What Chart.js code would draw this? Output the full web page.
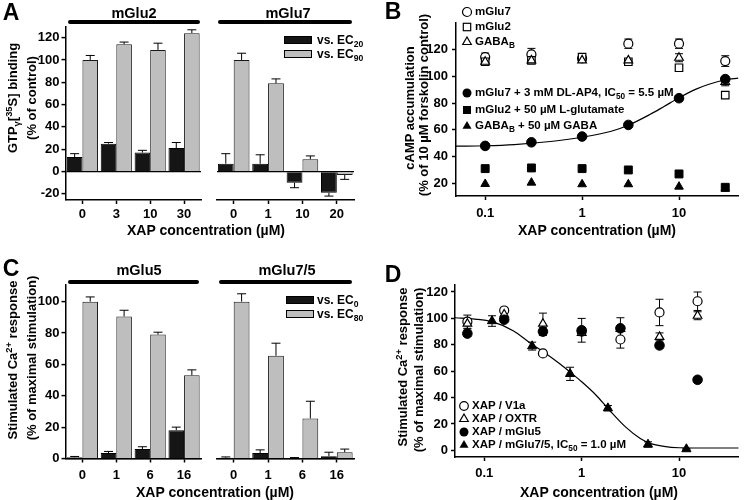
<!DOCTYPE html>
<html>
<head>
<meta charset="utf-8">
<script src="https://cdn.jsdelivr.net/npm/chart.js@4"></script>
<style>
  body { margin: 0; background: #fff; }
  #fig { position: relative; width: 745px; height: 500px; overflow: hidden;
         font-family: "Liberation Sans", Arial, sans-serif; font-weight: bold; color: #000; }
  canvas { position: absolute; }
  .lbl { position: absolute; white-space: nowrap; line-height: 1; transform: translate(-50%, -50%); z-index: 2; }
  .vt { position: absolute; white-space: nowrap; line-height: 1; font-size: 13px; z-index: 2;
        transform: translate(-50%, -50%) rotate(-90deg); }
  .xt { font-size: 14px; }
  .hd { font-size: 14.5px; }
  .let { font-size: 23px; }
  .leg { position: absolute; white-space: nowrap; line-height: 1; font-size: 11.5px; z-index: 2;
         transform: translateY(-50%); }
  .hbar { position: absolute; height: 4px; background: #000; border-radius: 2px; z-index: 2; }
  .sw { position: absolute; width: 26px; height: 6px; border: 1px solid #000; z-index: 2; }
  .mk { position: absolute; width: 12px; height: 12px; z-index: 2; }
  sub, sup { font-size: 0.72em; line-height: 0; position: relative; vertical-align: baseline; }
  sub { top: 0.35em; }
  sup { top: -0.5em; }
</style>
</head>
<body>
<div id="fig">
  <!-- panel letters -->
  <div class="lbl let" style="left:11px;top:12px">A</div>
  <div class="lbl let" style="left:393px;top:11px">B</div>
  <div class="lbl let" style="left:11px;top:268px">C</div>
  <div class="lbl let" style="left:393px;top:274px">D</div>

  <!-- group headers -->
  <div class="lbl hd" style="left:134px;top:13px">mGlu2</div>
  <div class="lbl hd" style="left:288px;top:13px">mGlu7</div>
  <div class="hbar" style="left:68px;top:20px;width:132px"></div>
  <div class="hbar" style="left:218px;top:20px;width:134px"></div>
  <div class="lbl hd" style="left:139px;top:270px">mGlu5</div>
  <div class="lbl hd" style="left:287px;top:270px">mGlu7/5</div>
  <div class="hbar" style="left:68px;top:280px;width:131px"></div>
  <div class="hbar" style="left:219px;top:280px;width:133px"></div>

  <!-- axis titles -->
  <div class="vt" style="left:12px;top:98px">GTP<sub>γ</sub>[<sup>35</sup>S] binding</div>
  <div class="vt" style="left:31px;top:98px">(% of control)</div>
  <div class="lbl xt" style="left:206px;top:230px">XAP concentration (µM)</div>

  <div class="vt" style="left:409px;top:108px">cAMP accumulation</div>
  <div class="vt" style="left:423px;top:105px">(% of 10 µM forskolin control)</div>
  <div class="lbl xt" style="left:597px;top:230px">XAP concentration (µM)</div>

  <div class="vt" style="left:12px;top:360px">Stimulated Ca<sup>2+</sup> response</div>
  <div class="vt" style="left:31px;top:358px">(% of maximal stimulation)</div>
  <div class="lbl xt" style="left:215px;top:492px">XAP concentration (µM)</div>

  <div class="vt" style="left:402px;top:367px">Stimulated Ca<sup>2+</sup> response</div>
  <div class="vt" style="left:418px;top:370px">(% of maximal stimulation)</div>
  <div class="lbl xt" style="left:599px;top:492px">XAP concentration (µM)</div>

  <!-- legend A -->
  <div class="sw" style="left:284px;top:36px;background:#151515"></div>
  <div class="leg" style="left:317px;top:40px;font-size:12px">vs. EC<sub>20</sub></div>
  <div class="sw" style="left:284px;top:50px;background:#bebebe"></div>
  <div class="leg" style="left:317px;top:54px;font-size:12px">vs. EC<sub>90</sub></div>

  <!-- legend C -->
  <div class="sw" style="left:286px;top:296px;background:#151515"></div>
  <div class="leg" style="left:317px;top:300px;font-size:12px">vs. EC<sub>0</sub></div>
  <div class="sw" style="left:286px;top:310px;background:#bebebe"></div>
  <div class="leg" style="left:317px;top:314px;font-size:12px">vs. EC<sub>80</sub></div>

  <!-- legend B -->
  <svg class="mk" style="left:461px;top:6px"><circle cx="6" cy="6" r="4.5" fill="#fff" stroke="#000" stroke-width="1.2"/></svg>
  <div class="leg" style="left:475px;top:12px">mGlu7</div>
  <svg class="mk" style="left:461px;top:21px"><rect x="2.3" y="2.3" width="7.4" height="7.4" fill="#fff" stroke="#000" stroke-width="1.2"/></svg>
  <div class="leg" style="left:475px;top:27px">mGlu2</div>
  <svg class="mk" style="left:461px;top:36px"><polygon points="6,1 10.3,8.5 1.7,8.5" fill="#fff" stroke="#000" stroke-width="1.2"/></svg>
  <div class="leg" style="left:475px;top:42px">GABA<sub>B</sub></div>

  <svg class="mk" style="left:461px;top:87px"><circle cx="6" cy="6" r="4.5" fill="#000"/></svg>
  <div class="leg" style="left:475px;top:93px">mGlu7 + 3 mM DL-AP4, IC<sub>50</sub> = 5.5 µM</div>
  <svg class="mk" style="left:461px;top:104px"><rect x="2" y="2" width="8" height="8" fill="#000"/></svg>
  <div class="leg" style="left:475px;top:110px">mGlu2 + 50 µM L-glutamate</div>
  <svg class="mk" style="left:461px;top:120px"><polygon points="6,1 10.5,8.8 1.5,8.8" fill="#000"/></svg>
  <div class="leg" style="left:475px;top:126px">GABA<sub>B</sub> + 50 µM GABA</div>

  <!-- legend D -->
  <svg class="mk" style="left:458px;top:400px"><circle cx="6" cy="6" r="4.3" fill="#fff" stroke="#000" stroke-width="1.2"/></svg>
  <div class="leg" style="left:472px;top:406px">XAP / V1a</div>
  <svg class="mk" style="left:458px;top:413px"><polygon points="6,1 10.3,8.5 1.7,8.5" fill="#fff" stroke="#000" stroke-width="1.2"/></svg>
  <div class="leg" style="left:472px;top:419px">XAP / OXTR</div>
  <svg class="mk" style="left:458px;top:426px"><circle cx="6" cy="6" r="4.5" fill="#000"/></svg>
  <div class="leg" style="left:472px;top:432px">XAP / mGlu5</div>
  <svg class="mk" style="left:458px;top:439px"><polygon points="6,1 10.5,8.8 1.5,8.8" fill="#000"/></svg>
  <div class="leg" style="left:472px;top:445px">XAP / mGlu7/5, IC<sub>50</sub> = 1.0 µM</div>
</div>

<script>
// ---- panel A: GTPgS binding ----
const aCatsGlu2 = ["0", "3", "10", "30"];
const aCatsGlu7 = ["0", "1", "10", "20"];
const aEc20Glu2 = [13, 25, 17, 21];
const aEc20Glu2Err = [3, 1, 2, 5];
const aEc90Glu2 = [100, 114, 109, 124];
const aEc90Glu2Err = [4, 2, 6, 3];
const aEc20Glu7 = [7, 7, -10, -19];
const aEc20Glu7Err = [9, 8, 4.5, 3];
const aEc90Glu7 = [100, 79, 11, -3];
const aEc90Glu7Err = [6, 4, 3, 4];
const aTicks = [-20, 0, 20, 40, 60, 80, 100, 120];

// ---- panel B: cAMP accumulation ----
const bConc = [0.1, 0.3, 1, 3, 10, 30];
const bGlu7Open = [114.5, 116.5, 113.5, 124.5, 124.5, 111.5];
const bGlu7OpenErr = [3, 4.5, 2, 3.5, 3.5, 4];
const bGlu2Open = [111, 112, 114.5, 111, 106.5, 86];
const bGababOpen = [111, 112, 112, 112, 114, 96];
const bGababOpenErr = [0, 0, 0, 0, 3, 3];
const bGlu7Ap4 = [48, 50.7, 55, 63.7, 83.7, 98];
const bGlu7Ap4Err = [1, 1, 1, 1.5, 2, 2];
const bGlu2Glut = [31, 31.5, 31, 30, 27, 17];
const bGababGaba = [19.5, 20.5, 19.3, 19.3, 17.5, 16];
const bFitConc = [0.05, 0.1, 0.2, 0.5, 1, 2, 3, 5, 7, 10, 15, 20, 30, 41];
const bFitVal = [47.8, 48.1, 49, 51.5, 54.5, 59, 63.5, 71.5, 77.5, 84, 90.5, 94, 97.5, 98.7];
const bTicks = [20, 40, 60, 80, 100, 120];
const logTicks = [0.1, 1, 10];

// ---- panel C: Ca2+ response ----
const cCats = ["0", "1", "6", "16"];
const cEc0Glu5 = [0.8, 3.5, 6, 18];
const cEc0Glu5Err = [0.5, 1, 1.5, 2];
const cEc80Glu5 = [100, 90.5, 79, 53];
const cEc80Glu5Err = [3, 4, 1.5, 3.5];
const cEc0Glu75 = [0.5, 3.5, 0.3, 1.5];
const cEc0Glu75Err = [0.5, 2, 0.3, 2.5];
const cEc80Glu75 = [100, 65.5, 25.5, 4];
const cEc80Glu75Err = [5, 8, 11, 2];
const cTicks = [0, 20, 40, 60, 80, 100];

// ---- panel D: selectivity ----
const dConc = [0.067, 0.16, 0.4, 1.0, 2.5, 6.3, 15.5];
const dV1a = [97.5, 106, 73.5, 90, 84, 104.5, 113];
const dV1aErr = [5, 2, 1.5, 2, 6.5, 10, 7];
const dOxtr = [96, 103, 96, 89, 92, 86, 102];
const dOxtrErr = [4, 2, 8, 2, 2, 3, 3];
const dGlu5 = [88.5, 99, 90, 91, 92.5, 79.5, 53.5];
const dGlu5Err = [2, 2, 3, 9, 8, 2, 2];
const dConc75 = [0.12, 0.31, 0.76, 1.86, 4.8, 11.9];
const dGlu75 = [98, 79, 58, 32, 4.5, 1];
const dGlu75Err = [4, 3, 5, 2, 2, 0.5];
const dFitConc = [0.05, 0.08, 0.12, 0.2, 0.3, 0.4, 0.6, 0.8, 1, 1.4, 1.9, 2.8, 4, 5, 7, 10, 20, 41];
const dFitVal = [100.5, 99.5, 97.5, 90.5, 81, 75, 65.5, 58, 52, 42, 31, 18, 9, 5.5, 3, 2, 1.8, 1.8];
const dTicks = [0, 20, 40, 60, 80, 100, 120];

Chart.defaults.font.family = '"Liberation Sans", Arial, sans-serif';
Chart.defaults.color = "#000";
const tickFont = { size: 13, weight: "bold" };

// error bars: bars get one-sided whiskers, points get both sides
const errorBars = {
  id: "errorBars",
  beforeDatasetsDraw(chart) {
    const ctx = chart.ctx;
    const ys = chart.scales.y;
    chart.data.datasets.forEach((ds, di) => {
      if (!ds.errors) return;
      const meta = chart.getDatasetMeta(di);
      ctx.save();
      ctx.strokeStyle = "#000";
      ctx.lineWidth = 1;
      meta.data.forEach((el, i) => {
        const e = ds.errors[i];
        if (!e) return;
        const cap = ds.capHalf || 4.5;
        const x = el.x;
        let ends;
        if (typeof ds.data[i] === "number") {
          const v = ds.data[i];
          ends = [v, v >= 0 ? v + e : v - e];
        } else {
          const v = ds.data[i].y;
          ends = [v - e, v + e];
        }
        const y0 = ys.getPixelForValue(ends[0]);
        const y1 = ys.getPixelForValue(ends[1]);
        ctx.beginPath();
        ctx.moveTo(x, y0);
        ctx.lineTo(x, y1);
        ctx.moveTo(x - cap, y1);
        ctx.lineTo(x + cap, y1);
        if (typeof ds.data[i] !== "number") {
          ctx.moveTo(x - cap, y0);
          ctx.lineTo(x + cap, y0);
        }
        ctx.stroke();
      });
      ctx.restore();
    });
  },
};

function makeCanvas(box) {
  const cv = document.createElement("canvas");
  cv.width = box.w;
  cv.height = box.h;
  cv.style.left = box.l + "px";
  cv.style.top = box.t + "px";
  cv.style.width = box.w + "px";
  cv.style.height = box.h + "px";
  document.getElementById("fig").appendChild(cv);
  return cv;
}

function zeroLine(c) {
  return c.tick && c.tick.value === 0 ? "#000" : "rgba(0,0,0,0)";
}

// grouped bar subplot; showY draws the left axis with labels
function barChart(box, area, cats, blk, blkErr, gry, gryErr, yMin, yMax, yTicks, showY, xPad) {
  const cv = makeCanvas(box);
  return new Chart(cv, {
    type: "bar",
    data: {
      labels: cats,
      datasets: [
        { data: blk, errors: blkErr, backgroundColor: "#151515", borderColor: "#000", borderWidth: 1 },
        { data: gry, errors: gryErr, backgroundColor: "#bebebe", borderColor: "#1a1a1a", borderWidth: 1 },
      ],
    },
    options: {
      responsive: false,
      animation: false,
      events: [],
      layout: { padding: { left: 0, top: area.top - box.t, right: box.l + box.w - area.right, bottom: 0 } },
      datasets: { bar: { categoryPercentage: 0.92, barPercentage: 1 } },
      plugins: { legend: { display: false }, tooltip: { enabled: false } },
      scales: {
        x: {
          grid: { offset: false, drawOnChartArea: false, tickLength: 4, tickColor: "#000", tickWidth: 1.5 },
          border: { color: "#000", width: 1.5 },
          ticks: { font: tickFont, padding: xPad, maxRotation: 0, color: "#000" },
          afterFit: (s) => { s.height = box.t + box.h - area.bottom; },
        },
        y: {
          min: yMin,
          max: yMax,
          afterBuildTicks: (s) => { s.ticks = yTicks.map((v) => ({ value: v })); },
          grid: { color: zeroLine, lineWidth: 1.2, drawTicks: showY, tickLength: 4, tickColor: "#000", tickWidth: 1.5 },
          border: { display: showY, color: "#000", width: 1.5 },
          ticks: { display: showY, font: tickFont, padding: 2, color: "#000" },
          afterFit: (s) => { s.width = area.left - box.l; },
        },
      },
    },
    plugins: [errorBars],
  });
}

function pts(xs, ys) {
  return xs.map((x, i) => ({ x: x, y: ys[i] }));
}

function marker(style, filled, radius, data, errors, order) {
  return {
    data: data,
    errors: errors,
    capHalf: 4,
    pointStyle: style,
    pointRadius: radius,
    backgroundColor: filled ? "#000" : "#fff",
    borderColor: "#000",
    borderWidth: filled ? 1 : 1.2,
    order: order,
    clip: false,
  };
}

function fitLine(data) {
  return {
    data: data,
    showLine: true,
    borderColor: "#000",
    borderWidth: 1.2,
    pointRadius: 0,
    cubicInterpolationMode: "monotone",
    fill: false,
    order: 10,
  };
}

// dose-response subplot on a log concentration axis
function doseChart(box, area, datasets, yMin, yMax, yTicks, yPad, xPad) {
  const cv = makeCanvas(box);
  return new Chart(cv, {
    type: "scatter",
    data: { datasets: datasets },
    options: {
      responsive: false,
      animation: false,
      events: [],
      layout: { padding: { left: 0, top: area.top - box.t, right: box.l + box.w - area.right, bottom: 0 } },
      plugins: { legend: { display: false }, tooltip: { enabled: false } },
      scales: {
        x: {
          type: "logarithmic",
          min: 0.05,
          max: 41,
          afterBuildTicks: (s) => { s.ticks = logTicks.map((v) => ({ value: v })); },
          grid: { drawOnChartArea: false, tickLength: 4, tickColor: "#000", tickWidth: 1.5 },
          border: { color: "#000", width: 1.5 },
          ticks: { font: tickFont, padding: xPad, maxRotation: 0, color: "#000", callback: (v) => String(v) },
          afterFit: (s) => { s.height = box.t + box.h - area.bottom; },
        },
        y: {
          min: yMin,
          max: yMax,
          afterBuildTicks: (s) => { s.ticks = yTicks.map((v) => ({ value: v })); },
          grid: { drawOnChartArea: false, tickLength: 4, tickColor: "#000", tickWidth: 1.5 },
          border: { color: "#000", width: 1.5 },
          ticks: { font: tickFont, padding: yPad, color: "#000" },
          afterFit: (s) => { s.width = area.left - box.l; },
        },
      },
    },
    plugins: [errorBars],
  });
}

// panel A
barChart({ l: 0, t: 0, w: 205, h: 245 }, { left: 65.5, top: 27, right: 201, bottom: 200 },
  aCatsGlu2, aEc20Glu2, aEc20Glu2Err, aEc90Glu2, aEc90Glu2Err, -25.5, 129.5, aTicks, true, 3);
barChart({ l: 205, t: 0, w: 160, h: 245 }, { left: 216.5, top: 27, right: 354, bottom: 200 },
  aCatsGlu7, aEc20Glu7, aEc20Glu7Err, aEc90Glu7, aEc90Glu7Err, -25.5, 129.5, aTicks, false, 3);

// panel C
barChart({ l: 0, t: 250, w: 205, h: 245 }, { left: 65.5, top: 285, right: 201, bottom: 458.5 },
  cCats, cEc0Glu5, cEc0Glu5Err, cEc80Glu5, cEc80Glu5Err, 0, 110.6, cTicks, true, 5.5);
barChart({ l: 205, t: 250, w: 160, h: 245 }, { left: 216.5, top: 285, right: 354, bottom: 458.5 },
  cCats, cEc0Glu75, cEc0Glu75Err, cEc80Glu75, cEc80Glu75Err, 0, 110.6, cTicks, false, 5.5);

// panel B
doseChart({ l: 375, t: 0, w: 370, h: 245 }, { left: 456, top: 23, right: 745, bottom: 196 }, [
  marker("triangle", true, 5, pts(bConc, bGababGaba), null, 2),
  marker("rect", true, 5.6, pts(bConc, bGlu2Glut), null, 1),
  marker("circle", true, 4.8, pts(bConc, bGlu7Ap4), bGlu7Ap4Err, 0),
  marker("triangle", false, 5, pts(bConc, bGababOpen), bGababOpenErr, 3),
  marker("rect", false, 5.3, pts(bConc, bGlu2Open), null, 4),
  marker("circle", false, 4.5, pts(bConc, bGlu7Open), bGlu7OpenErr, 5),
  fitLine(pts(bFitConc, bFitVal)),
], 10.5, 140, bTicks, 4, 6);

// panel D
doseChart({ l: 375, t: 250, w: 370, h: 245 }, { left: 455, top: 285, right: 745, bottom: 457 }, [
  marker("triangle", true, 5.3, pts(dConc75, dGlu75), dGlu75Err, 0),
  marker("circle", true, 4.8, pts(dConc, dGlu5), dGlu5Err, 1),
  marker("triangle", false, 5, pts(dConc, dOxtr), dOxtrErr, 2),
  marker("circle", false, 4.5, pts(dConc, dV1a), dV1aErr, 3),
  fitLine(pts(dFitConc, dFitVal)),
], -5, 125.3, dTicks, 3, 5);
</script>
</body>
</html>
